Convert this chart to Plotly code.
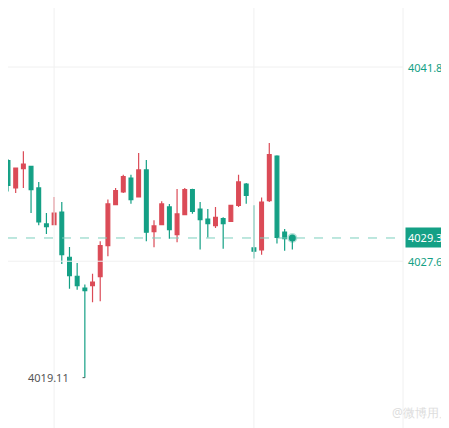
import plotly.graph_objects as go

# candles, oldest first (red = up, green = down)
opens = [4034.99, 4032.99, 4034.40, 4034.57, 4032.99, 4030.36, 4030.31, 4031.23, 4027.92, 4026.53,
         4025.67, 4025.84, 4026.50, 4028.77, 4031.77, 4032.70, 4033.72, 4032.33, 4034.31, 4029.79,
         4030.31, 4031.60, 4029.57, 4031.04, 4032.87, 4031.45, 4030.72, 4030.23, 4030.75, 4030.55,
         4031.72, 4033.28, 4028.60, 4028.45, 4032.06, 4035.33, 4029.77, 4029.36]
closes = [4033.17, 4034.45, 4034.74, 4032.87, 4030.50, 4030.16, 4031.16, 4028.11, 4026.57, 4025.84,
          4025.48, 4026.11, 4028.77, 4031.82, 4032.79, 4033.82, 4032.14, 4034.31, 4029.75, 4030.21,
          4031.82, 4029.94, 4031.09, 4032.87, 4031.28, 4030.67, 4030.38, 4030.84, 4030.38, 4031.72,
          4033.43, 4032.45, 4028.36, 4031.96, 4035.43, 4029.38, 4029.28, 4029.33]
highs = [4035.10, 4032.99, 4035.67, 4034.57, 4033.43, 4031.16, 4032.33, 4031.96, 4028.67, 4027.50,
         4025.92, 4026.72, 4029.09, 4032.14, 4032.99, 4033.96, 4033.96, 4035.55, 4035.04, 4030.62,
         4032.01, 4031.82, 4032.92, 4032.99, 4032.94, 4031.96, 4031.45, 4031.60, 4030.84, 4031.72,
         4033.96, 4033.35, 4031.72, 4032.30, 4036.28, 4035.38, 4029.99, 4029.53]
lows = [4032.74, 4032.62, 4032.99, 4031.16, 4030.26, 4029.62, 4030.31, 4027.43, 4025.62, 4025.55,
        4019.11, 4024.62, 4024.70, 4027.99, 4031.77, 4032.62, 4031.84, 4032.33, 4029.09, 4028.65,
        4030.31, 4029.28, 4029.01, 4031.77, 4031.11, 4028.48, 4029.37, 4030.06, 4028.55, 4030.50,
        4031.60, 4031.84, 4027.82, 4028.11, 4031.96, 4028.92, 4028.40, 4028.48]
idx = list(range(len(opens)))

last_price = 4029.33
axis_labels = [4041.84, 4027.63]
low_label = "4019.11"

RED = "#DB4B57"
GREEN = "#14A085"
GRID = "#F0F0F0"

fig = go.Figure()
fig.add_trace(go.Candlestick(
    x=idx, open=opens, high=highs, low=lows, close=closes,
    increasing=dict(line=dict(color=RED, width=1.2), fillcolor=RED),
    decreasing=dict(line=dict(color=GREEN, width=1.2), fillcolor=GREEN),
    whiskerwidth=0, showlegend=False, hoverinfo="skip"))

fig.add_trace(go.Scatter(x=[idx[-1]], y=[last_price], mode="markers",
                         marker=dict(size=7, color=GREEN, line=dict(color="rgba(20,160,133,0.3)", width=3)),
                         showlegend=False, hoverinfo="skip"))

shapes = [
    dict(type="line", xref="paper", x0=0, x1=1, y0=last_price, y1=last_price,
         line=dict(color="#7CCFBE", width=1, dash="dash")),
    dict(type="line", xref="paper", x0=0, x1=1, y0=axis_labels[0], y1=axis_labels[0],
         line=dict(color=GRID, width=1)),
    dict(type="line", xref="paper", x0=0, x1=1, y0=axis_labels[1], y1=axis_labels[1],
         line=dict(color=GRID, width=1)),
    dict(type="line", xref="paper", yref="paper", x0=1, x1=1, y0=0, y1=1,
         line=dict(color=GRID, width=1)),
    dict(type="line", x0=idx[10] - 0.3, x1=idx[10], y0=min(lows), y1=min(lows),
         line=dict(color="#555555", width=1, dash="dot")),
]
for gx in [6, 32]:
    shapes.append(dict(type="line", yref="paper", x0=gx, x1=gx, y0=0, y1=1,
                       line=dict(color=GRID, width=1)))

ann = [
    dict(x=1, xref="paper", xanchor="left", xshift=2, y=last_price, text=f"{last_price:.2f}",
         font=dict(color="white", size=11), bgcolor=GREEN, borderpad=2, showarrow=False),
    dict(x=1, xref="paper", xanchor="left", xshift=3, y=axis_labels[0], text=f"{axis_labels[0]:.2f}",
         font=dict(color=GREEN, size=11), showarrow=False),
    dict(x=1, xref="paper", xanchor="left", xshift=3, y=axis_labels[1], text=f"{axis_labels[1]:.2f}",
         font=dict(color=GREEN, size=11), showarrow=False),
    dict(x=idx[10], y=min(lows), xanchor="right", xshift=-14, text=low_label,
         font=dict(color="#555555", size=11), showarrow=False),
    dict(x=1, xref="paper", xanchor="right", xshift=50, y=0.03, yref="paper",
         text="@微博用户", font=dict(color="#DDDDDD", size=12), showarrow=False),
]
fig.update_layout(
    width=449, height=428, margin=dict(l=0, r=54, t=0, b=0),
    plot_bgcolor="white", paper_bgcolor="white",
    font=dict(family="Noto Sans, Roboto, sans-serif"),
    annotations=ann, shapes=shapes,
)
fig.update_xaxes(range=[0, 51.4], visible=False, rangeslider_visible=False)
fig.update_yaxes(range=[4014.84, 4046.16], visible=False)

fig.write_html("out.html")
